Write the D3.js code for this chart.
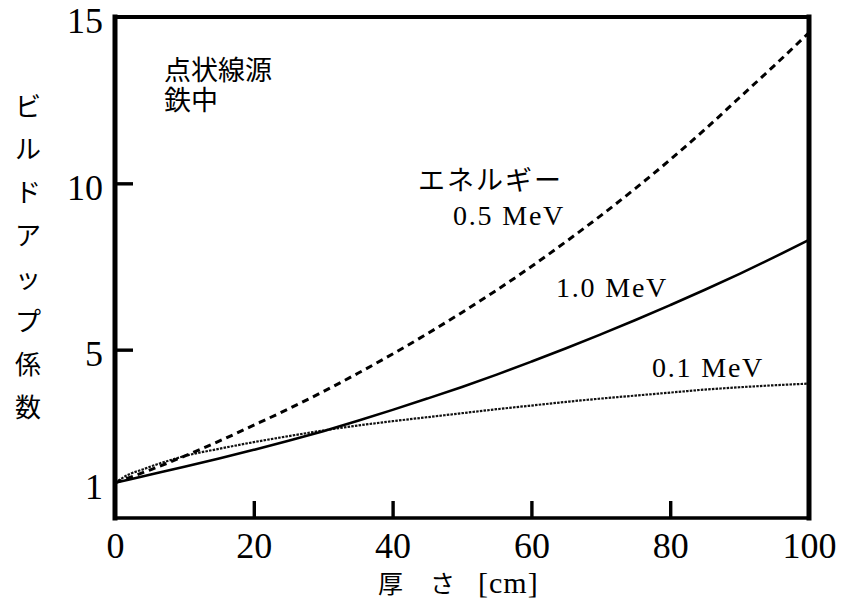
<!DOCTYPE html>
<html>
<head>
<meta charset="utf-8">
<script src="https://cdn.jsdelivr.net/npm/d3@7"></script>
<style>
  html, body { margin: 0; padding: 0; background: #fff; }
  svg { display: block; }
</style>
</head>
<body>
<svg id="chart" width="846" height="603"></svg>
<script>
// ---- data ----
const thickness = [0, 5, 10, 15, 20, 25, 30, 35, 40, 45, 50, 55, 60, 65, 70, 75, 80, 85, 90, 95, 100];
const mev05 = [1.0, 1.38, 1.8, 2.25, 2.73, 3.22, 3.74, 4.29, 4.87, 5.48, 6.12, 6.79, 7.5, 8.25, 9.03, 9.85, 10.71, 11.62, 12.58, 13.54, 14.53];
const mev10 = [1.0, 1.24, 1.48, 1.73, 1.99, 2.26, 2.55, 2.86, 3.19, 3.53, 3.88, 4.25, 4.64, 5.04, 5.46, 5.89, 6.34, 6.8, 7.28, 7.78, 8.3];
const thickness01 = [0, 2, 4, 6, 8, 10, 15, 20, 25, 30, 35, 40, 45, 50, 55, 60, 65, 70, 75, 80, 85, 90, 95, 100];
const mev01 = [1.0, 1.25, 1.4, 1.55, 1.68, 1.8, 2.02, 2.22, 2.4, 2.57, 2.72, 2.85, 2.97, 3.09, 3.21, 3.32, 3.43, 3.53, 3.62, 3.71, 3.8, 3.87, 3.93, 3.98];
const xTicks = [0, 20, 40, 60, 80, 100];
const yTicks = [1, 5, 10, 15];
const yTitle = ["ビ", "ル", "ド", "ア", "ッ", "プ", "係", "数"];
const xTitleParts = ["厚", "さ", "[cm]"];
const noteLines = ["点状線源", "鉄中"];
const energyHeader = "エネルギー";
const seriesLabels = ["0.5 MeV", "1.0 MeV", "0.1 MeV"];

// ---- layout ----
const svg = d3.select("#chart");
const L = 115, R = 809, T = 17, B = 518;
const x = d3.scaleLinear().domain([0, 100]).range([L, R]);
const y = d3.scaleLinear().domain([0, 15]).range([516, T]);

const serif = "'Liberation Serif', 'Times New Roman', serif";
const mixed = "'Liberation Serif', 'Noto Sans CJK JP', serif";
const cjk = "'Noto Sans CJK JP', 'Noto Sans CJK SC', sans-serif";

// curves
const line = d3.line().x(d => x(d[0])).y(d => y(d[1])).curve(d3.curveMonotoneX);
const g = svg.append("g");
g.append("path")
  .datum(thickness01.map((t, i) => [t, mev01[i]]))
  .attr("d", line).attr("fill", "none").attr("stroke", "#111")
  .attr("stroke-width", 2.2).attr("stroke-dasharray", "2.5,1.2");
g.append("path")
  .datum(thickness.map((t, i) => [t, mev10[i]]))
  .attr("d", line).attr("fill", "none").attr("stroke", "#000")
  .attr("stroke-width", 2.6);
g.append("path")
  .datum(thickness.map((t, i) => [t, mev05[i]]))
  .attr("d", line).attr("fill", "none").attr("stroke", "#000")
  .attr("stroke-width", 3).attr("stroke-dasharray", "7,5");

// axes
const xAxis = d3.axisBottom(x).tickValues(xTicks).tickSizeInner(-17).tickSizeOuter(0).tickPadding(14);
const gx = svg.append("g").attr("transform", `translate(0,${B})`).call(xAxis);
gx.select(".domain").remove();
gx.selectAll(".tick line").attr("stroke", "#000").attr("stroke-width", 3.4)
  .attr("display", d => (d === 0 || d === 100) ? "none" : null);
gx.selectAll(".tick text").attr("font-family", serif).attr("font-size", 36).attr("fill", "#000");

const yAxis = d3.axisLeft(y).tickValues(yTicks).tickSizeInner(-18).tickSizeOuter(0).tickPadding(12);
const gy = svg.append("g").attr("transform", `translate(${L},0)`).call(yAxis);
gy.select(".domain").remove();
gy.selectAll(".tick line").attr("stroke", "#000").attr("stroke-width", 3.4)
  .attr("display", d => (d === 1 || d === 15) ? "none" : null);
gy.selectAll(".tick text").attr("font-family", serif).attr("font-size", 36).attr("fill", "#000")
  .attr("dy", "0.33em").attr("y", 4);

// frame
const frame = svg.append("g").attr("stroke", "#000").attr("stroke-linecap", "square");
frame.append("line").attr("x1", L).attr("x2", L).attr("y1", T).attr("y2", B).attr("stroke-width", 5);
frame.append("line").attr("x1", R).attr("x2", R).attr("y1", T).attr("y2", B).attr("stroke-width", 5);
frame.append("line").attr("x1", L).attr("x2", R).attr("y1", T).attr("y2", T).attr("stroke-width", 4);
frame.append("line").attr("x1", L).attr("x2", R).attr("y1", B).attr("y2", B).attr("stroke-width", 3.5);

// y title (vertical)
svg.append("g").selectAll("text").data(yTitle).join("text")
  .attr("x", 28).attr("y", (d, i) => 107 + i * 43)
  .attr("dy", "0.36em")
  .attr("text-anchor", "middle")
  .attr("font-family", cjk).attr("font-size", 26).attr("fill", "#000")
  .text(d => d);

// x title (single text element)
const xtX = [378, 430, 478];
const xt = svg.append("text").attr("y", 593)
  .attr("font-family", mixed).attr("fill", "#000");
xt.selectAll("tspan").data(xTitleParts).join("tspan")
  .attr("x", (d, i) => xtX[i])
  .attr("font-size", (d, i) => i === 2 ? 30 : 25)
  .attr("letter-spacing", (d, i) => i === 2 ? 1 : 0)
  .text(d => d);

// note (single text element, two lines)
const note = svg.append("text").attr("font-family", mixed).attr("font-size", 27).attr("fill", "#000");
note.selectAll("tspan").data(noteLines).join("tspan")
  .attr("x", 164).attr("y", (d, i) => 80 + i * 30)
  .text(d => d);

// energy labels
svg.append("text").attr("x", 418).attr("y", 190)
  .attr("font-family", mixed).attr("font-size", 27).attr("letter-spacing", 2).attr("fill", "#000")
  .text(energyHeader);
const labPos = [[453, 225], [556, 297], [652, 377]];
svg.append("g").selectAll("text").data(seriesLabels).join("text")
  .attr("x", (d, i) => labPos[i][0]).attr("y", (d, i) => labPos[i][1])
  .attr("font-family", serif).attr("font-size", 28).attr("letter-spacing", 1.8).attr("fill", "#000")
  .text(d => d);
</script>
</body>
</html>
